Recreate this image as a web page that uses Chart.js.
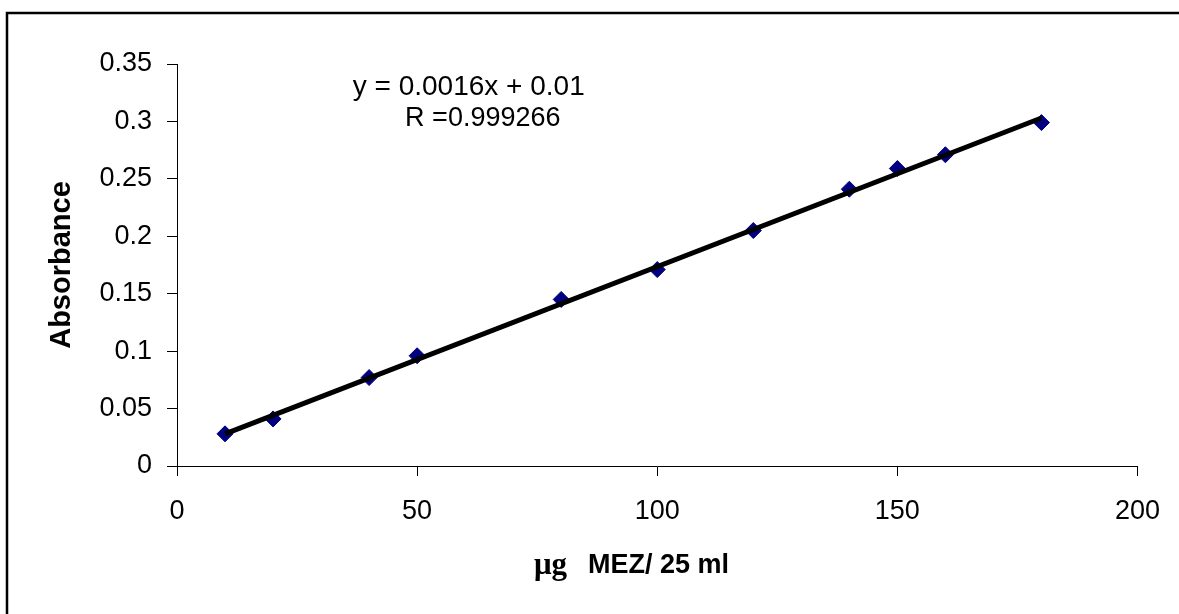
<!DOCTYPE html>
<html>
<head>
<meta charset="utf-8">
<script src="https://cdn.jsdelivr.net/npm/chart.js@4"></script>
<style>
    html, body { margin: 0; padding: 0; background: #fff; }
    #wrap { width: 1179px; height: 614px; }
</style>
</head>
<body>
<div id="wrap"><canvas id="chart" width="1179" height="614"></canvas></div>
<script>
// calibration points
const concentrations = [10, 20, 40, 50, 80, 100, 120, 140, 150, 160, 180];
const absorbances = [0.028, 0.041, 0.077, 0.096, 0.145, 0.171, 0.205, 0.241, 0.259, 0.271, 0.299];

// fitted line end points, as drawn
const trendX = [10, 180];
const trendY = [0.028, 0.303];

const xTickLabels = ["0", "50", "100", "150", "200"];
const yTickLabels = ["0", "0.05", "0.1", "0.15", "0.2", "0.25", "0.3", "0.35"];

const equationLines = ["y = 0.0016x + 0.01", "R =0.999266"];
const yTitle = "Absorbance";
const xTitleUnit = "\u03bcg";
const xTitleText = "MEZ/ 25 ml";

const sansFont = "'Liberation Sans', Arial, sans-serif";

const points = concentrations.map((x, i) => ({ x: x, y: absorbances[i] }));
const trend = trendX.map((x, i) => ({ x: x, y: trendY[i] }));

// frame + equation + x title
const decorPlugin = {
    id: "decor",
    beforeDraw(chart) {
        const ctx = chart.ctx;
        ctx.save();
        ctx.fillStyle = "#fff";
        ctx.fillRect(0, 0, chart.width, chart.height);
        ctx.strokeStyle = "#000";
        ctx.lineWidth = 2.5;
        ctx.beginPath();
        ctx.moveTo(7, chart.height);
        ctx.lineTo(7, 13);
        ctx.lineTo(chart.width, 13);
        ctx.stroke();
        ctx.restore();
    },
    afterDraw(chart) {
        const ctx = chart.ctx;
        const xs = chart.scales.x;
        const ys = chart.scales.y;
        ctx.save();
        ctx.fillStyle = "#000";
        ctx.textBaseline = "middle";
        ctx.textAlign = "left";
        ctx.font = "28px " + sansFont;
        ctx.fillText(equationLines[0], xs.getPixelForValue(36.6), ys.getPixelForValue(0.3296));
        ctx.font = "27px " + sansFont;
        ctx.fillText(equationLines[1], xs.getPixelForValue(47.5), ys.getPixelForValue(0.3027));

        // x axis title, mixed fonts
        const ty = 566;
        ctx.font = "bold 31px 'Liberation Serif', 'Times New Roman', serif";
        ctx.fillText(xTitleUnit, 534, ty);
        ctx.font = "bold 27px " + sansFont;
        ctx.fillText(xTitleText, 588, ty);
        ctx.restore();
    }
};

new Chart(document.getElementById("chart"), {
    type: "scatter",
    data: {
        datasets: [
            {
                type: "line",
                label: "Linear",
                data: trend,
                borderColor: "#000",
                borderWidth: 5,
                pointRadius: 0,
                fill: false
            },
            {
                label: "Absorbance",
                data: points,
                pointStyle: "rectRot",
                pointRadius: 8,
                backgroundColor: "#000080",
                borderColor: "#000080",
                borderWidth: 1
            }
        ]
    },
    options: {
        responsive: false,
        animation: false,
        devicePixelRatio: 1,
        layout: { padding: { left: 0, top: 64, right: 41, bottom: 0 } },
        plugins: {
            legend: { display: false },
            tooltip: { enabled: false }
        },
        scales: {
            x: {
                type: "linear",
                min: 0,
                max: 200,
                afterFit(scale) { scale.height = 148; },
                border: { display: true, color: "#000", width: 1 },
                grid: { drawOnChartArea: false, drawTicks: true, tickLength: 10, color: "#000" },
                ticks: {
                    stepSize: 50,
                    padding: 19,
                    color: "#000",
                    font: { family: sansFont, size: 27 },
                    callback: (v, i) => xTickLabels[i]
                }
            },
            y: {
                type: "linear",
                min: 0,
                max: 0.35,
                afterFit(scale) { scale.width = 177; },
                border: { display: true, color: "#000", width: 1 },
                grid: { drawOnChartArea: false, drawTicks: true, tickLength: 10, color: "#000" },
                title: {
                    display: true,
                    text: yTitle,
                    color: "#000",
                    font: { family: sansFont, size: 29, weight: "bold" },
                    padding: { top: 45, bottom: 0 }
                },
                ticks: {
                    stepSize: 0.05,
                    padding: 15,
                    color: "#000",
                    font: { family: sansFont, size: 27 },
                    callback: (v, i) => yTickLabels[i]
                }
            }
        }
    },
    plugins: [decorPlugin]
});
</script>
</body>
</html>
